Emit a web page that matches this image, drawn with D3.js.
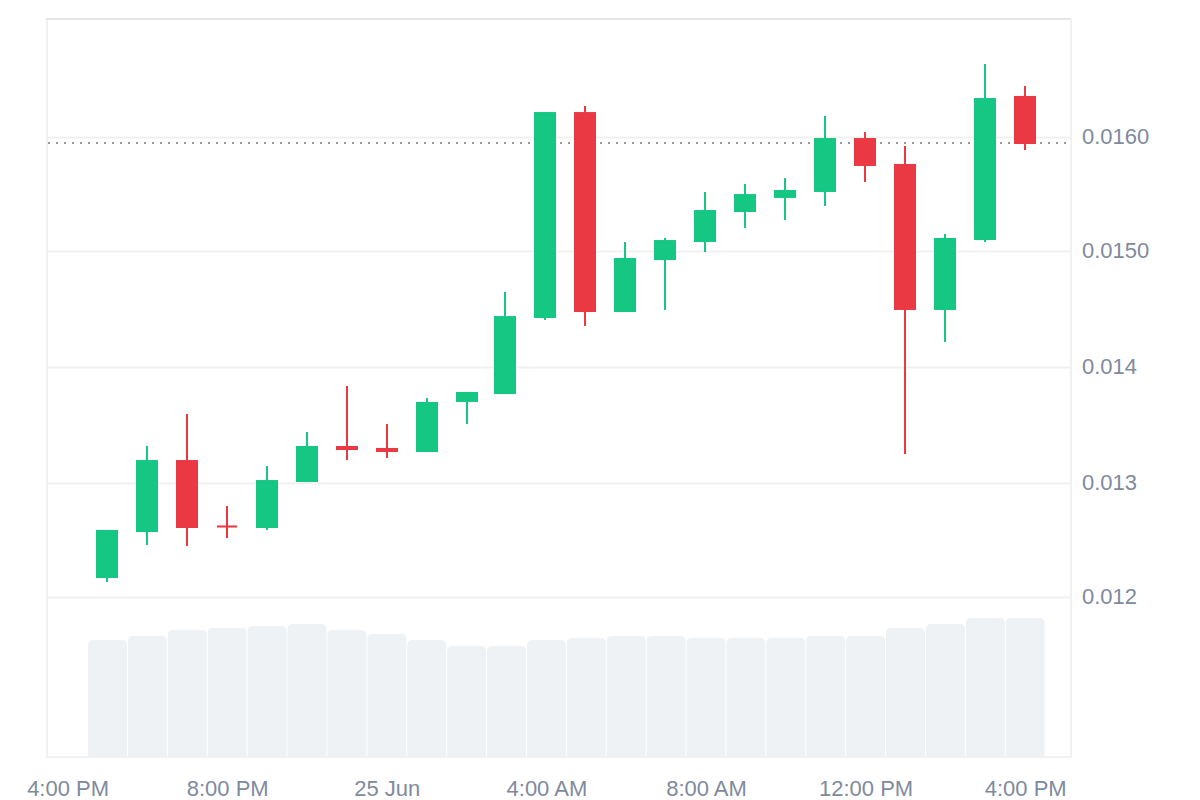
<!DOCTYPE html>
<html>
<head>
<meta charset="utf-8">
<script src="https://cdn.jsdelivr.net/npm/d3@7"></script>
<style>
  html, body { margin: 0; background: #fff; }
  svg { display: block; }
</style>
</head>
<body>
<svg id="chart" width="1200" height="800"></svg>
<script>
// candle values, one entry per hour from 5 PM 24 Jun to 4 PM 25 Jun
var hours = [17, 18, 19, 20, 21, 22, 23, 24, 25, 26, 27, 28, 29, 30, 31, 32, 33, 34, 35, 36, 37, 38, 39, 40];
var opens = [0.012165, 0.012565, 0.013191, 0.012622, 0.012600, 0.013000, 0.013313, 0.013296, 0.013261, 0.013696, 0.013765, 0.014426,
             0.016217, 0.014478, 0.014930, 0.015087, 0.015348, 0.015470, 0.015522, 0.015991, 0.015765, 0.014496, 0.015104, 0.016357];
var closes = [0.012583, 0.013191, 0.012600, 0.012604, 0.013017, 0.013313, 0.013278, 0.013261, 0.013696, 0.013783, 0.014443, 0.016217,
              0.014478, 0.014948, 0.015104, 0.015365, 0.015504, 0.015539, 0.015991, 0.015748, 0.014496, 0.015122, 0.016339, 0.015939];
var highs = [0.012583, 0.013313, 0.013591, 0.012791, 0.013139, 0.013435, 0.013835, 0.013504, 0.013730, 0.013783, 0.014652, 0.016217,
             0.016270, 0.015087, 0.015122, 0.015522, 0.015591, 0.015643, 0.016183, 0.016043, 0.015922, 0.015157, 0.016635, 0.016443];
var lows = [0.012130, 0.012452, 0.012443, 0.012513, 0.012583, 0.013000, 0.013191, 0.013209, 0.013261, 0.013504, 0.013765, 0.014409,
            0.014357, 0.014478, 0.014496, 0.015000, 0.015209, 0.015278, 0.015400, 0.015609, 0.013243, 0.014217, 0.015087, 0.015887];
var volumes = [117, 121, 127, 129, 131, 133, 127, 123, 117, 111, 111, 117, 119, 121, 121, 119, 119, 119, 121, 121, 129, 133, 139, 139];

// gridlines sit a hair off the round values in the picture
var yTicks = [0.012, 0.012991, 0.014, 0.015009, 0.016];
var yLabels = ['0.012', '0.013', '0.014', '0.0150', '0.0160'];
var xTickHours = [16, 20, 24, 28, 32, 36, 40];
var xLabels = ['4:00 PM', '8:00 PM', '25 Jun', '4:00 AM', '8:00 AM', '12:00 PM', '4:00 PM'];
var lastPrice = 0.015948;

var UP = '#16c784', DOWN = '#ea3943', VOL = '#eff2f5', GRID = '#f1f1f1', LABEL = '#808a9d';

var left = 47, right = 1071, top_ = 19, bottom = 757;

var toDate = h => new Date(Date.UTC(2023, 5, 24, h));
var x = d3.scaleUtc().domain([toDate(16), toDate(40)]).range([67.6, 1025.2]);
// candles snap to whole pixels, with one short step between 2 and 3 AM
var candleX = d3.scaleLinear().domain([17, 26, 27, 40]).range([107, 467, 505, 1025]);
var y = d3.scaleLinear().domain([0.012, 0.016]).range([597, 137]);
var v = d3.scaleLinear().domain([0, 139]).range([bottom, 618]);

var svg = d3.select('#chart');

// frame
svg.append('path')
    .attr('d', `M${left},${top_}V${bottom}H${right}V${top_}`)
    .attr('fill', 'none').attr('stroke', GRID).attr('stroke-width', 2);
svg.append('line')
    .attr('x1', left - 1).attr('x2', right)
    .attr('y1', top_).attr('y2', top_)
    .attr('stroke', '#e6e6e6').attr('stroke-width', 2);

// price axis, the ticks run back across the plot as gridlines
var yAxis = svg.append('g')
    .attr('transform', `translate(${right},0)`)
    .call(d3.axisRight(y)
        .tickValues(yTicks)
        .tickSize(-(right - left))
        .tickPadding(11)
        .tickFormat((d, i) => yLabels[i]));
yAxis.select('.domain').remove();
yAxis.selectAll('line').attr('stroke', GRID).attr('stroke-width', 2);
yAxis.selectAll('text').attr('dy', '0.3em');

// volume bars with rounded tops
var barW = 39;
svg.append('g').selectAll('path')
    .data(volumes)
    .join('path')
    .attr('fill', VOL)
    .attr('d', (d, i) => {
        var r = 5, x0 = x(toDate(hours[i])) - barW / 2, t = v(d);
        return `M${x0},${bottom - 1}V${t + r}Q${x0},${t} ${x0 + r},${t}H${x0 + barW - r}Q${x0 + barW},${t} ${x0 + barW},${t + r}V${bottom - 1}Z`;
    });

// last price line
svg.append('line')
    .attr('x1', left + 1).attr('x2', right - 4)
    .attr('y1', y(lastPrice)).attr('y2', y(lastPrice))
    .attr('stroke', '#999').attr('stroke-width', 2)
    .attr('stroke-dasharray', '2 6');

// candles
var candles = svg.append('g').selectAll('g')
    .data(hours)
    .join('g')
    .attr('fill', (d, i) => closes[i] >= opens[i] ? UP : DOWN);

candles.append('rect')
    .attr('x', d => candleX(d) - 1)
    .attr('width', 2)
    .attr('y', (d, i) => y(highs[i]))
    .attr('height', (d, i) => y(lows[i]) - y(highs[i]));

// very thin bodies come out a little narrower
var bodyW = i => Math.abs(y(opens[i]) - y(closes[i])) < 3 ? 20 : 22;

candles.append('rect')
    .attr('x', (d, i) => candleX(d) - bodyW(i) / 2)
    .attr('width', (d, i) => bodyW(i))
    .attr('y', (d, i) => y(Math.max(opens[i], closes[i])))
    .attr('height', (d, i) => Math.max(2, Math.abs(y(opens[i]) - y(closes[i]))));

// time axis
var xAxis = svg.append('g')
    .attr('transform', `translate(0,${bottom})`)
    .call(d3.axisBottom(x)
        .tickValues(xTickHours.map(toDate))
        .tickSize(0)
        .tickPadding(23)
        .tickFormat((d, i) => xLabels[i]));
xAxis.select('.domain').remove();

svg.selectAll('text')
    .style('font-family', '"Liberation Sans", Arial, sans-serif')
    .style('font-size', '22px')
    .attr('fill', LABEL);
</script>
</body>
</html>
